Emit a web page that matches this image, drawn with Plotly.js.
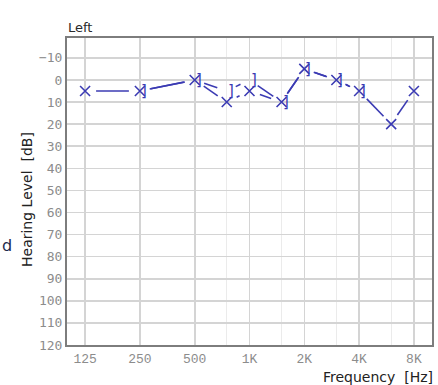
<!DOCTYPE html>
<html>
<head>
<meta charset="utf-8">
<script src="https://cdn.plot.ly/plotly-3.0.1.min.js"></script>
<style>
  html, body { margin: 0; padding: 0; background: #ffffff; }
  #chart { width: 438px; height: 385px; }
</style>
</head>
<body>
<div id="chart"></div>
<script>
// ---- Data ----
const tickFreqs = [125, 250, 500, 1000, 2000, 4000, 8000];
const tickLabels = ['125', '250', '500', '1K', '2K', '4K', '8K'];
const halfOctaveFreqs = [750, 1500, 3000, 6000];
const airFreqs = [125, 250, 500, 750, 1000, 1500, 2000, 3000, 4000, 6000, 8000];
const airLeft = [5, 5, 0, 10, 5, 10, -5, 0, 5, 20, 5];
const boneFreqs = [250, 500, 750, 1000, 1500, 2000, 3000, 4000];
const boneLeft = [5, 0, 5, 0, 10, -5, 0, 5];
const yTicks = [-10, 0, 10, 20, 30, 40, 50, 60, 70, 80, 90, 100, 110, 120];

// ---- Layout constants ----
const W = 438, H = 385;
const M = {l: 67, r: 6, t: 38, b: 40};
const xRange = [-0.33, 6.33];
const yRange = [120, -19];
const plotW = W - M.l - M.r, plotH = H - M.t - M.b;
const pxPerX = plotW / (xRange[1] - xRange[0]);
const pxPerY = plotH / Math.abs(yRange[0] - yRange[1]);
const blue = '#3b3bb3';

const oct = f => Math.log2(f / 125);

// build gapped line segments between consecutive points
function gappedSegments(freqs, vals, gapPx) {
  const xs = [], ys = [];
  for (let i = 0; i < freqs.length - 1; i++) {
    const x0 = oct(freqs[i]), x1 = oct(freqs[i + 1]);
    const y0 = vals[i], y1 = vals[i + 1];
    const dxp = (x1 - x0) * pxPerX, dyp = (y1 - y0) * pxPerY;
    const L = Math.sqrt(dxp * dxp + dyp * dyp);
    const t = gapPx / L;
    if (t >= 0.5) continue;
    xs.push(x0 + t * (x1 - x0), x1 - t * (x1 - x0), null);
    ys.push(y0 + t * (y1 - y0), y1 - t * (y1 - y0), null);
  }
  return {xs, ys};
}

const airSeg = gappedSegments(airFreqs, airLeft, 11);
const boneSeg = gappedSegments(boneFreqs, boneLeft, 10);

const traces = [
  {
    x: airSeg.xs, y: airSeg.ys, mode: 'lines', type: 'scatter',
    line: {color: blue, width: 1.6}, hoverinfo: 'skip', showlegend: false
  },
  {
    x: boneSeg.xs, y: boneSeg.ys, mode: 'lines', type: 'scatter',
    line: {color: blue, width: 1.6}, hoverinfo: 'skip', showlegend: false
  },
  {
    x: airFreqs.map(oct), y: airLeft, mode: 'markers', type: 'scatter',
    marker: {symbol: 'x-thin-open', size: 10, color: blue, line: {color: blue, width: 1.6}},
    showlegend: false
  }
];

const boneMarks = boneFreqs.map((f, i) => ({
  text: ']', xref: 'x', yref: 'y', x: oct(f), y: boneLeft[i],
  xanchor: 'center', yanchor: 'middle', xshift: 4, yshift: 0,
  showarrow: false, font: {family: 'DejaVu Sans', size: 15, color: blue}
}));

const layout = {
  width: W, height: H,
  margin: M,
  paper_bgcolor: '#ffffff', plot_bgcolor: '#ffffff',
  showlegend: false,
  xaxis: {
    range: xRange, tickmode: 'array',
    tickvals: tickFreqs.map(oct), ticktext: tickLabels,
    showgrid: true, gridcolor: '#d4d4d4', gridwidth: 1.6,
    showline: true, linecolor: '#7d7d7d', linewidth: 2, mirror: true,
    ticks: '', zeroline: false,
    tickfont: {family: 'Liberation Mono', size: 13, color: '#8c8c8c'},
    minor: {tickmode: 'array', tickvals: halfOctaveFreqs.map(oct), showgrid: true,
            gridcolor: '#ebebeb', gridwidth: 1.2, ticks: ''},
    fixedrange: true
  },
  yaxis: {
    range: yRange, tickmode: 'array', tickvals: yTicks,
    ticktext: yTicks.map(v => v < 0 ? '\u2212' + Math.abs(v) : String(v)),
    showgrid: true, gridcolor: '#d4d4d4', gridwidth: 1.6,
    showline: true, linecolor: '#7d7d7d', linewidth: 2, mirror: true,
    ticks: '', zeroline: false,
    tickfont: {family: 'DejaVu Sans Mono', size: 13, color: '#8c8c8c'},
    fixedrange: true
  },
  annotations: boneMarks.concat([
    {text: 'Left', xref: 'paper', yref: 'paper', x: -0.003, y: 1, xanchor: 'left', yanchor: 'bottom',
     yshift: 1, showarrow: false, font: {family: 'DejaVu Sans', size: 13, color: '#2a2a2a'}},
    {text: 'Hearing Level  [dB]', xref: 'paper', yref: 'paper', x: (27 - M.l) / plotW, y: (H - M.b - 200) / plotH,
     xanchor: 'center', yanchor: 'middle', textangle: -90, showarrow: false,
     font: {family: 'DejaVu Sans', size: 14, color: '#222222'}},
    {text: 'Frequency  [Hz]', xref: 'paper', yref: 'paper', x: (435 - M.l) / plotW, y: (H - M.b - 377) / plotH,
     xanchor: 'right', yanchor: 'middle', showarrow: false,
     font: {family: 'DejaVu Sans', size: 14, color: '#222222'}},
    {text: 'd', xref: 'paper', yref: 'paper', x: (7 - M.l) / plotW, y: (H - M.b - 245) / plotH,
     xanchor: 'center', yanchor: 'middle', showarrow: false,
     font: {family: 'DejaVu Sans', size: 16, color: '#1c2a4c'}}
  ])
};

Plotly.newPlot('chart', traces, layout, {displayModeBar: false, staticPlot: true});
</script>
</body>
</html>
